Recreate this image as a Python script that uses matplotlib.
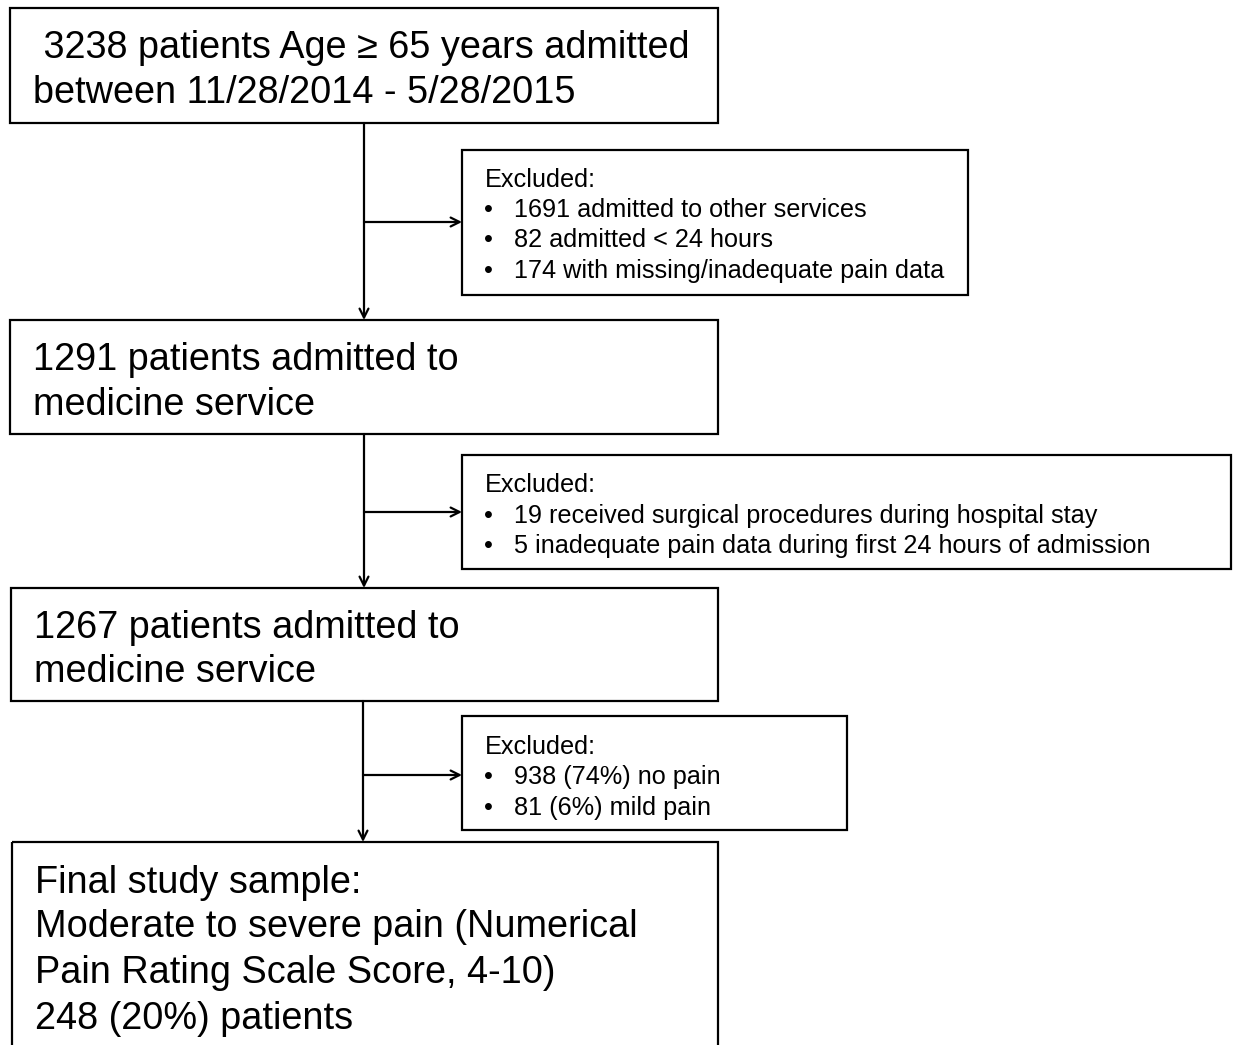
import matplotlib
matplotlib.use("Agg")
import matplotlib.pyplot as plt
from matplotlib.patches import Rectangle

# ---- content ----
main_texts = [
    [" 3238 patients Age \u2265 65 years admitted", "between 11/28/2014 - 5/28/2015"],
    ["1291 patients admitted to", "medicine service"],
    ["1267 patients admitted to", "medicine service"],
    ["Final study sample:", "Moderate to severe pain (Numerical",
     "Pain Rating Scale Score, 4-10)", "248 (20%) patients"],
]
excl_header = "Excluded:"
excl_items = [
    ["1691 admitted to other services", "82 admitted < 24 hours",
     "174 with missing/inadequate pain data"],
    ["19 received surgical procedures during hospital stay",
     "5 inadequate pain data during first 24 hours of admission"],
    ["938 (74%) no pain", "81 (6%) mild pain"],
]

# ---- layout (pixels) ----
W, H = 1237, 1045
main_boxes = [(10, 8, 718, 123), (10, 320, 718, 434), (11, 588, 718, 701), (12, 842, 718, 1060)]
main_text_x = [33, 33, 34, 35]
main_line_y = [[48, 93], [360, 405], [628, 672], [883, 927, 973, 1019]]
excl_boxes = [(462, 150, 968, 295), (462, 455, 1231, 569), (462, 716, 847, 830)]
excl_line_y = [[180, 210, 240, 271], [485, 516, 546], [747, 777, 808]]
arrow_x = [364, 364, 363]
arrow_h_y = [222, 512, 775]

fig = plt.figure(figsize=(W / 100, H / 100), dpi=100)
ax = fig.add_axes([0, 0, 1, 1])
ax.set_xlim(0, W)
ax.set_ylim(H, 0)
ax.axis("off")

font = "Liberation Sans"
big_fs = 27.3
small_fs = 18.2
lw = 1.6

for (x0, y0, x1, y1), lines, tx, ys in zip(main_boxes, main_texts, main_text_x, main_line_y):
    ax.add_patch(Rectangle((x0, y0), x1 - x0, y1 - y0, fill=False, lw=lw, ec="black"))
    for line, y in zip(lines, ys):
        ax.text(tx, y, line, fontsize=big_fs, family=font, va="center", ha="left")

for (x0, y0, x1, y1), items, ys in zip(excl_boxes, excl_items, excl_line_y):
    ax.add_patch(Rectangle((x0, y0), x1 - x0, y1 - y0, fill=False, lw=lw, ec="black"))
    ax.text(485, ys[0], excl_header, fontsize=small_fs, family=font, va="center", ha="left")
    for item, y in zip(items, ys[1:]):
        ax.text(484, y, "\u2022", fontsize=small_fs, family=font, va="center", ha="left")
        ax.text(514, y, item, fontsize=small_fs, family=font, va="center", ha="left")

ap = dict(arrowstyle="->", lw=lw, color="black", mutation_scale=16, shrinkA=0, shrinkB=0)
for i in range(3):
    top = main_boxes[i][3]
    bot = main_boxes[i + 1][1]
    x = arrow_x[i]
    ax.annotate("", xy=(x, bot), xytext=(x, top), arrowprops=ap)
    ax.annotate("", xy=(excl_boxes[i][0], arrow_h_y[i]), xytext=(x, arrow_h_y[i]), arrowprops=ap)

fig.savefig("out.png", dpi=100, facecolor="white")
